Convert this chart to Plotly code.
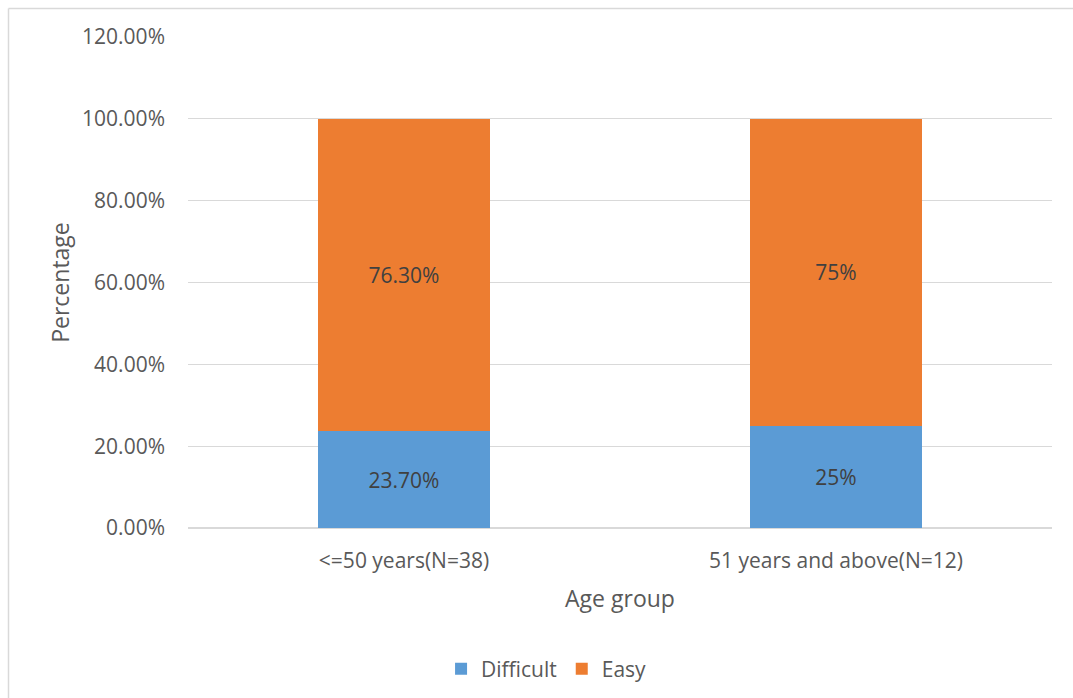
import plotly.graph_objects as go

# Share of respondents by age group
categories = ["<=50 years(N=38)", "51 years and above(N=12)"]
difficult = [23.7, 25.0]
easy = [76.3, 75.0]
difficult_labels = ["23.70%", "25%"]
easy_labels = ["76.30%", "75%"]
y_ticks = [0, 20, 40, 60, 80, 100, 120]
y_tick_text = ["0.00%", "20.00%", "40.00%", "60.00%", "80.00%", "100.00%", "120.00%"]

FONT = "Open Sans"
TEXT = "#595959"

fig = go.Figure()
fig.add_trace(go.Bar(
    name="Difficult", x=categories, y=difficult,
    marker=dict(color="#5B9BD5", line=dict(width=0)),
    text=difficult_labels, textposition="inside", insidetextanchor="middle",
    textfont=dict(family=FONT, size=21, color="#404040"),
))
fig.add_trace(go.Bar(
    name="Easy", x=categories, y=easy,
    marker=dict(color="#ED7D31", line=dict(width=0)),
    text=easy_labels, textposition="inside", insidetextanchor="middle",
    textfont=dict(family=FONT, size=21, color="#404040"),
))

W, H = 1073, 698
L, R, T, B = 188, 21, 37, 170
pw, ph = W - L - R, H - T - B

def px_x(x):
    return (x - L) / pw

def px_y(y):
    return (H - B - y) / ph

# Outer chart frame (left and top edges)
fig.add_shape(type="line", xref="paper", yref="paper",
              x0=px_x(8.5), x1=px_x(1080), y0=px_y(8.5), y1=px_y(8.5),
              line=dict(color="#D9D9D9", width=1.5))
fig.add_shape(type="line", xref="paper", yref="paper",
              x0=px_x(8.5), x1=px_x(8.5), y0=px_y(8.5), y1=px_y(710),
              line=dict(color="#D9D9D9", width=1.5))

fig.update_layout(
    width=W, height=H,
    margin=dict(l=L, r=R, t=T, b=B, autoexpand=False),
    barmode="stack", bargap=0.6,
    plot_bgcolor="white", paper_bgcolor="white",
    font=dict(family=FONT, size=21, color=TEXT),
    showlegend=True,
    legend=dict(orientation="h", x=0.415, xanchor="center", y=px_y(669), yanchor="middle",
                font=dict(family=FONT, size=21, color=TEXT), traceorder="normal",
                itemwidth=30),
    xaxis=dict(
        title=dict(text="Age group", font=dict(family=FONT, size=23, color=TEXT), standoff=17),
        showgrid=False, showline=False, ticks="", ticklabelstandoff=18,
        tickfont=dict(family=FONT, size=21, color=TEXT),
    ),
    yaxis=dict(
        title=dict(text="Percentage", font=dict(family=FONT, size=23, color=TEXT), standoff=6),
        range=[0, 120], tickvals=y_ticks, ticktext=y_tick_text,
        showgrid=True, gridcolor="#D9D9D9", gridwidth=1.3,
        zeroline=True, zerolinecolor="#D9D9D9", zerolinewidth=1.5,
        showline=False, ticks="", ticklen=0, ticklabelstandoff=22,
        tickfont=dict(family=FONT, size=21, color=TEXT),
    ),
)

fig.write_html("out.html")
